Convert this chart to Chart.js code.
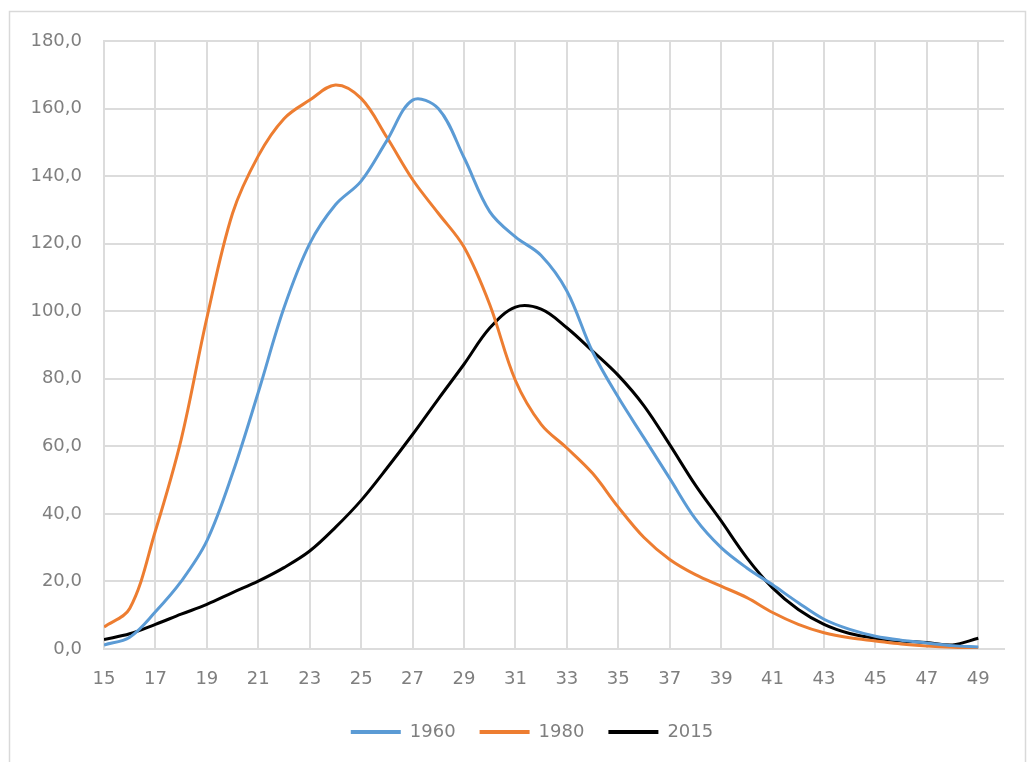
<!DOCTYPE html>
<html><head><meta charset="utf-8">
<script src="https://cdn.jsdelivr.net/npm/chart.js@4/dist/chart.umd.min.js"></script>
<style>html,body{margin:0;padding:0;background:#fff}#wrap{width:1030px;height:762px;position:relative}</style>
</head><body><div id="wrap"><canvas id="c" width="1030" height="762"></canvas></div>
<script>
const ages = [15,16,17,18,19,20,21,22,23,24,25,26,27,28,29,30,31,32,33,34,35,36,37,38,39,40,41,42,43,44,45,46,47,48,49];
const s1960 = [1.2,3.5,11,20,32,52,76,101,120,131.5,138.5,150.5,162.5,160,145.5,129.5,122,116.5,106,88,74.5,62.5,50.5,38.5,30,24,19,13.7,8.8,5.8,3.8,2.6,1.8,1.0,0.6];
const s1980 = [6.5,12,35,62,98,129,146,157,162.5,167,163,151.5,139,129,119,102,79.5,66.5,59.5,52,42,33,26.5,22,18.6,15.2,10.8,7.3,4.8,3.3,2.4,1.5,0.9,0.5,0.3];
const s2015 = [2.8,4.5,7.3,10.3,13.2,16.7,20.1,24.1,29,36,44,53.5,63.5,74,84.3,95,101.2,100.6,95.1,88.2,81,72,60.5,48.5,37.9,27,18.1,11.7,7.3,4.6,3.2,2.4,1.9,1.2,3.2];
const seriesNames = ['1960','1980','2015'];
const seriesColors = ['#5B9BD5','#ED7D31','#000000'];
const xTickValues = [15,17,19,21,23,25,27,29,31,33,35,37,39,41,43,45,47,49];
const yTickValues = [0,20,40,60,80,100,120,140,160,180];

const textColor = '#7f7f7f';
const gridColor = '#dcdcdc';
const font = {family:'DejaVu Sans', size:18};

const frame = {
  id:'frame',
  beforeDraw(chart){
    const ctx = chart.ctx;
    ctx.save();
    ctx.fillStyle='#fff';
    ctx.fillRect(0,0,chart.width,chart.height);
    ctx.strokeStyle='#d9d9d9';
    ctx.lineWidth=1.5;
    ctx.strokeRect(9.5,11.5,1016,770);
    ctx.restore();
  },
  afterLayout(chart){
    if (chart.legend) { chart.legend.left = 60; }
  }
};

const allSeries = [s1960,s1980,s2015];
new Chart(document.getElementById('c'), {
  type:'line',
  data:{
    datasets: allSeries.map((s,i)=>({
      label: seriesNames[i],
      data: ages.map((a,j)=>({x:a,y:s[j]})),
      borderColor: seriesColors[i],
      backgroundColor: seriesColors[i],
      borderWidth: 3,
      pointRadius: 0,
      tension: 0.35,
      fill:false
    }))
  },
  options:{
    responsive:false,
    animation:false,
    layout:{padding:{left:30,right:26,top:41,bottom:11}},
    plugins:{
      tooltip:{enabled:false},
      legend:{
        position:'bottom',
        labels:{
          color:textColor, font:font, boxWidth:50, boxHeight:4, padding:24,
          generateLabels(chart){
            return chart.data.datasets.map((ds,i)=>({
              text:ds.label, fillStyle:ds.borderColor, strokeStyle:ds.borderColor,
              lineWidth:0, hidden:false, datasetIndex:i, fontColor:textColor
            }));
          }
        }
      }
    },
    scales:{
      x:{
        type:'linear', min:15, max:50,
        afterBuildTicks(scale){ scale.ticks = xTickValues.map(v=>({value:v})); },
        afterFit(scale){ scale.height = 50; },
        ticks:{color:textColor, font:font, autoSkip:false, maxRotation:0, padding:20,
          callback:(v)=>String(v)},
        grid:{color:gridColor, lineWidth:2, drawTicks:false},
        border:{color:gridColor, width:2}
      },
      y:{
        min:0, max:180,
        afterBuildTicks(scale){ scale.ticks = yTickValues.map(v=>({value:v})); },
        afterFit(scale){ scale.width = 74; },
        ticks:{color:textColor, font:font, padding:22,
          callback:(v)=>v.toFixed(1).replace('.',',')},
        grid:{color:gridColor, lineWidth:2, drawTicks:false},
        border:{color:gridColor, width:2}
      }
    }
  },
  plugins:[frame]
});
</script>
</body></html>
